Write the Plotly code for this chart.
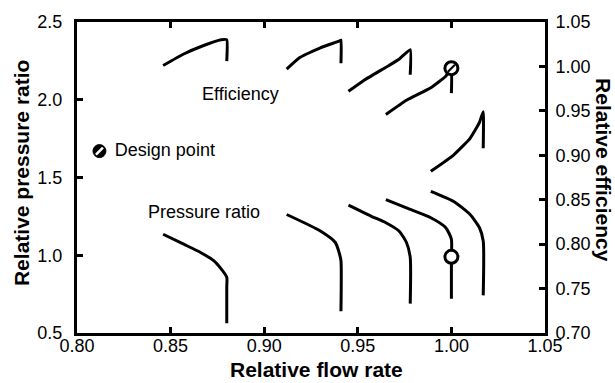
import plotly.graph_objects as go

# Pressure ratio curves (flow, pressure ratio)
pr_x = [
    [0.846, 0.857, 0.866, 0.873, 0.877, 0.880, 0.880, 0.880],
    [0.912, 0.930, 0.938, 0.940, 0.941, 0.941],
    [0.945, 0.957, 0.965, 0.972, 0.976, 0.978, 0.978],
    [0.965, 0.976, 0.989, 0.997, 1.000, 1.000, 1.000],
    [0.989, 1.001, 1.010, 1.015, 1.017, 1.017],
]
pr_y = [
    [1.135, 1.071, 1.018, 0.965, 0.912, 0.859, 0.795, 0.562],
    [1.262, 1.156, 1.082, 1.018, 0.965, 0.640],
    [1.322, 1.252, 1.209, 1.156, 1.082, 0.986, 0.689],
    [1.358, 1.304, 1.241, 1.177, 1.103, 0.986, 0.721],
    [1.411, 1.347, 1.262, 1.177, 1.092, 0.742],
]
# Efficiency curves (flow, efficiency)
ef_x = [
    [0.846, 0.857, 0.867, 0.877, 0.880, 0.880],
    [0.912, 0.919, 0.930, 0.940, 0.941, 0.941],
    [0.945, 0.953, 0.965, 0.972, 0.978, 0.978],
    [0.965, 0.976, 0.989, 0.997, 1.000, 1.000],
    [0.989, 1.001, 1.010, 1.015, 1.017, 1.017],
]
ef_y = [
    [1.001, 1.014, 1.023, 1.030, 1.030, 1.006],
    [0.997, 1.010, 1.021, 1.0285, 1.0296, 1.0035],
    [0.972, 0.984, 0.999, 1.008, 1.019, 0.9906],
    [0.946, 0.962, 0.976, 0.989, 0.998, 0.970],
    [0.882, 0.900, 0.919, 0.937, 0.949, 0.908],
]
design_flow = 1.00
design_pr = 0.99
design_eff = 0.998
legend_pos = [0.812, 1.67]

x_ticks = [0.80, 0.85, 0.90, 0.95, 1.00, 1.05]
y_ticks = [0.5, 1.0, 1.5, 2.0, 2.5]
y2_ticks = [0.70, 0.75, 0.80, 0.85, 0.90, 0.95, 1.00, 1.05]

FONT = "Liberation Sans, Arial, sans-serif"
W, H = 615, 383
ML, MR, MT, MB = 77, 70, 19, 50
PW, PH = W - ML - MR, H - MT - MB


def px_to_paper(px, py):
    return (px - ML) / PW, (H - MB - py) / PH


fig = go.Figure()
for xs, ys in zip(pr_x, pr_y):
    fig.add_trace(go.Scatter(x=xs, y=ys, mode="lines",
                             line=dict(color="black", width=3, shape="spline", smoothing=0.6),
                             showlegend=False, hoverinfo="skip"))
for xs, ys in zip(ef_x, ef_y):
    fig.add_trace(go.Scatter(x=xs, y=ys, mode="lines", yaxis="y2",
                             line=dict(color="black", width=3, shape="spline", smoothing=0.4),
                             showlegend=False, hoverinfo="skip"))

# design point on pressure-ratio curve
fig.add_trace(go.Scatter(x=[design_flow], y=[design_pr], mode="markers",
                         marker=dict(symbol="circle", size=13, color="white",
                                     line=dict(color="black", width=3)),
                         showlegend=False, hoverinfo="skip"))
# design point on efficiency curve
fig.add_trace(go.Scatter(x=[design_flow], y=[design_eff], mode="markers", yaxis="y2",
                         marker=dict(symbol="circle", size=13, color="white",
                                     line=dict(color="black", width=3)),
                         showlegend=False, hoverinfo="skip"))
fig.add_trace(go.Scatter(x=[design_flow], y=[design_eff], mode="markers", yaxis="y2",
                         marker=dict(symbol="line-ne", size=7,
                                     line=dict(color="black", width=2)),
                         showlegend=False, hoverinfo="skip"))
# legend-like marker
fig.add_trace(go.Scatter(x=[legend_pos[0]], y=[legend_pos[1]], mode="markers",
                         marker=dict(symbol="circle", size=13, color="black",
                                     line=dict(color="black", width=1)),
                         showlegend=False, hoverinfo="skip", cliponaxis=False))
fig.add_trace(go.Scatter(x=[legend_pos[0]], y=[legend_pos[1]], mode="markers+text",
                         text=["  Design point"], textposition="middle right",
                         textfont=dict(family=FONT, size=18, color="black"),
                         marker=dict(symbol="line-ne", size=7,
                                     line=dict(color="white", width=2.5)),
                         showlegend=False, hoverinfo="skip", cliponaxis=False))

tick_common = dict(ticks="inside", ticklen=6, tickwidth=3, tickcolor="black",
                   showline=True, linewidth=3, linecolor="black",
                   showgrid=False, zeroline=False,
                   tickfont=dict(family=FONT, size=18, color="black"))

fig.update_layout(
    width=W, height=H,
    margin=dict(l=ML, r=MR, t=MT, b=MB),
    plot_bgcolor="white", paper_bgcolor="white",
    font=dict(family=FONT, size=18, color="black"),
    xaxis=dict(range=[0.80, 1.05], tickvals=x_ticks, tickformat=".2f",
               mirror="ticks", ticklabelstandoff=-6, **tick_common),
    yaxis=dict(range=[0.5, 2.5], tickvals=y_ticks, tickformat=".1f",
               ticklabelstandoff=8, **tick_common),
    yaxis2=dict(range=[0.70, 1.05], tickvals=y2_ticks, tickformat=".2f",
                overlaying="y", side="right", ticklabelstandoff=4, **tick_common),
)

annots = [
    dict(text="Efficiency", x=0.8876, y=2.04, xref="x", yref="y", showarrow=False,
         font=dict(family=FONT, size=18)),
    dict(text="Pressure ratio", x=0.868, y=1.277, xref="x", yref="y", showarrow=False,
         font=dict(family=FONT, size=18)),
]
for txt, cx, cy, ang in [("<b>Relative flow rate</b>", 316, 370, 0),
                         ("<b>Relative pressure ratio</b>", 21, 171.5, -90),
                         ("<b>Relative efficiency</b>", 604, 168.5, 90)]:
    px_, py_ = px_to_paper(cx, cy)
    annots.append(dict(text=txt, x=px_, y=py_, xref="paper", yref="paper",
                       xanchor="center", yanchor="middle", showarrow=False,
                       textangle=ang, font=dict(family=FONT, size=21, color="black")))
fig.update_layout(annotations=annots)

fig.write_html("out.html")
